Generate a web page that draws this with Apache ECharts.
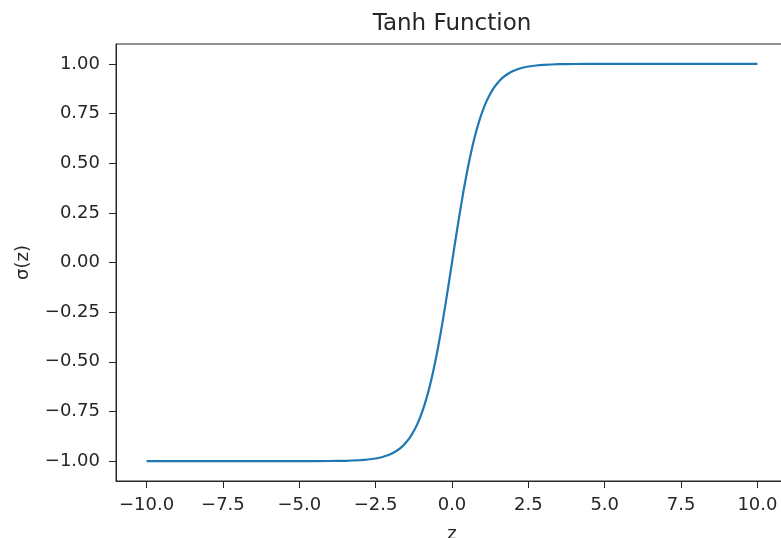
<!DOCTYPE html>
<html>
<head>
<meta charset="utf-8">
<script src="https://cdn.jsdelivr.net/npm/echarts@6/dist/echarts.min.js"></script>
<style>
  html, body { margin: 0; padding: 0; background: #fff; }
  #chart { width: 781px; height: 538px; }
</style>
</head>
<body>
<div id="chart"></div>
<script>
const zValues = [-10, -7.5, -5, -4, -3.5, -3, -2.75, -2.5, -2.375, -2.25, -2.125, -2, -1.875, -1.75, -1.625, -1.5, -1.375, -1.25, -1.125, -1, -0.875, -0.75, -0.625, -0.5, -0.375, -0.25, -0.125, 0, 0.125, 0.25, 0.375, 0.5, 0.625, 0.75, 0.875, 1, 1.125, 1.25, 1.375, 1.5, 1.625, 1.75, 1.875, 2, 2.125, 2.25, 2.375, 2.5, 2.75, 3, 3.5, 4, 5, 7.5, 10];
const sigmaValues = [-1.0, -1.0, -0.9999, -0.9993, -0.9982, -0.9951, -0.9919, -0.9866, -0.9827, -0.9780, -0.9719, -0.9640, -0.9541, -0.9414, -0.9257, -0.9051, -0.8799, -0.8483, -0.8098, -0.7616, -0.7039, -0.6351, -0.5546, -0.4621, -0.3584, -0.2449, -0.1244, 0, 0.1244, 0.2449, 0.3584, 0.4621, 0.5546, 0.6351, 0.7039, 0.7616, 0.8098, 0.8483, 0.8799, 0.9051, 0.9257, 0.9414, 0.9541, 0.9640, 0.9719, 0.9780, 0.9827, 0.9866, 0.9919, 0.9951, 0.9982, 0.9993, 0.9999, 1.0, 1.0];
const xTicks = [-10, -7.5, -5, -2.5, 0, 2.5, 5, 7.5, 10];
const yTicks = [-1, -0.75, -0.5, -0.25, 0, 0.25, 0.5, 0.75, 1];
const titleText = 'Tanh Function';
const xName = 'z';
const yName = 'σ(z)';

const fmt = (v, d) => {
  const s = Math.abs(v).toFixed(d);
  return (v < 0 ? '\u2212' : '') + s;
};
const font = 'DejaVu Sans';
const textColor = '#262626';
const lineColor = '#262626';

const chart = echarts.init(document.getElementById('chart'), null, { renderer: 'canvas' });
chart.setOption({
  animation: false,
  backgroundColor: '#fff',
  title: {
    text: titleText,
    left: 447,
    top: 8,
    textAlign: 'center',
    textStyle: { fontFamily: font, fontSize: 23, fontWeight: 'normal', color: textColor }
  },
  grid: {
    left: 116, top: 44, width: 672, height: 437,
    containLabel: false,
    outerBoundsMode: 'none',
    show: true, borderColor: lineColor, borderWidth: 1, backgroundColor: 'transparent'
  },
  xAxis: {
    type: 'value', min: -11, max: 11,
    name: xName, nameLocation: 'middle', nameGap: 44,
    nameTextStyle: { fontFamily: font, fontSize: 18, color: textColor },
    axisLine: { show: true, onZero: false, lineStyle: { color: lineColor, width: 1 } },
    axisTick: { show: true, length: 7, inside: false, customValues: xTicks, lineStyle: { color: lineColor } },
    axisLabel: { customValues: xTicks, formatter: v => fmt(v, 1), fontFamily: font, fontSize: 18, color: textColor, margin: 15 },
    splitLine: { show: false }
  },
  yAxis: {
    type: 'value', min: -1.1, max: 1.1,
    name: yName, nameLocation: 'middle', nameGap: 84, nameRotate: 90,
    nameTextStyle: { fontFamily: font, fontSize: 18, color: textColor },
    axisLine: { show: true, onZero: false, lineStyle: { color: lineColor, width: 1 } },
    axisTick: { show: true, length: 7, inside: false, customValues: yTicks, lineStyle: { color: lineColor } },
    axisLabel: { customValues: yTicks, formatter: v => fmt(v, 2), fontFamily: font, fontSize: 18, color: textColor, margin: 16 },
    splitLine: { show: false }
  },
  series: [{
    type: 'line',
    data: zValues.map((z, i) => [z, sigmaValues[i]]),
    showSymbol: false,
    smooth: 0.2,
    lineStyle: { color: '#1f77b4', width: 2.2 },
    itemStyle: { color: '#1f77b4' }
  }]
});
</script>
</body>
</html>
